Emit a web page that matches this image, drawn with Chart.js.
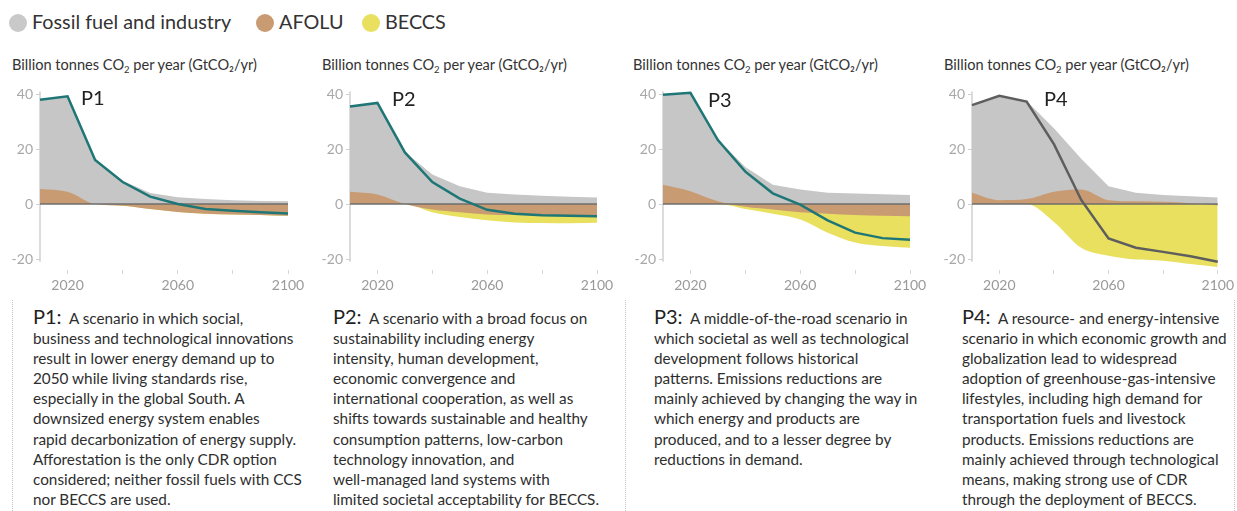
<!DOCTYPE html>
<html>
<head>
<meta charset="utf-8">
<script src="https://cdn.jsdelivr.net/npm/chart.js@4.4.0/dist/chart.umd.min.js"></script>
<style>
  body { margin: 0; width: 1237px; height: 511px; background: #fff; position: relative; overflow: hidden;
         font-family: Lato, "Noto Sans", sans-serif; color: #333; }
  .abs { position: absolute; }
  .legend { top: 10px; height: 22px; font-size: 19.8px; line-height: 22px; color: #333; white-space: nowrap; }
  .dot { display: inline-block; width: 18px; height: 18px; border-radius: 50%; vertical-align: -3px; margin-right: 5px; }
  .ytitle { top: 56px; font-size: 14.6px; white-space: nowrap; color: #333; }
  .ytitle sub { font-size: 9.5px; vertical-align: -3px; }
  .plabel { font-size: 20px; line-height: 20px; color: #222; }
  .txt { top: 306px; font-size: 15.3px; line-height: 20.1px; white-space: nowrap; color: #2e2e2e; }
  .txt .p { font-size: 20px; line-height: 20.1px; color: #222; }
  .vline { top: 300px; height: 211px; border-left: 1px dotted #c4c4c4; }
  canvas { position: absolute; top: 80px; }
</style>
</head>
<body>

<div class="abs legend" style="left:9px"><span class="dot" style="background:#c9c9c9"></span>Fossil fuel and industry</div>
<div class="abs legend" style="left:256px"><span class="dot" style="background:#c99b72"></span>AFOLU</div>
<div class="abs legend" style="left:362px"><span class="dot" style="background:#e8e05e"></span>BECCS</div>

<div class="abs ytitle" style="left:12px">Billion tonnes CO<sub>2</sub> per year (GtCO₂/yr)</div>
<div class="abs ytitle" style="left:322px">Billion tonnes CO<sub>2</sub> per year (GtCO₂/yr)</div>
<div class="abs ytitle" style="left:633px">Billion tonnes CO<sub>2</sub> per year (GtCO₂/yr)</div>
<div class="abs ytitle" style="left:944px">Billion tonnes CO<sub>2</sub> per year (GtCO₂/yr)</div>

<canvas id="c1" width="298" height="215" style="left:10px"></canvas>
<canvas id="c2" width="297" height="215" style="left:320px"></canvas>
<canvas id="c3" width="297" height="215" style="left:633px"></canvas>
<canvas id="c4" width="295" height="215" style="left:942px"></canvas>

<div class="abs plabel" style="left:81px;top:87px">P1</div>
<div class="abs plabel" style="left:392px;top:88px">P2</div>
<div class="abs plabel" style="left:708px;top:89px">P3</div>
<div class="abs plabel" style="left:1044px;top:88px">P4</div>

<div class="abs vline" style="left:12px"></div>
<div class="abs vline" style="left:625px"></div>
<div class="abs vline" style="left:1234px"></div>

<div class="abs txt" style="left:33px"><span class="p">P1:</span>&nbsp; A scenario in which social,<br>business and technological innovations<br>result in lower energy demand up to<br>2050 while living standards rise,<br>especially in the global South. A<br>downsized energy system enables<br>rapid decarbonization of energy supply.<br>Afforestation is the only CDR option<br>considered; neither fossil fuels with CCS<br>nor BECCS are used.</div>
<div class="abs txt" style="left:333px"><span class="p">P2:</span>&nbsp; A scenario with a broad focus on<br>sustainability including energy<br>intensity, human development,<br>economic convergence and<br>international cooperation, as well as<br>shifts towards sustainable and healthy<br>consumption patterns, low-carbon<br>technology innovation, and<br>well-managed land systems with<br>limited societal acceptability for BECCS.</div>
<div class="abs txt" style="left:654px"><span class="p">P3:</span>&nbsp; A middle-of-the-road scenario in<br>which societal as well as technological<br>development follows historical<br>patterns. Emissions reductions are<br>mainly achieved by changing the way in<br>which energy and products are<br>produced, and to a lesser degree by<br>reductions in demand.</div>
<div class="abs txt" style="left:962px"><span class="p">P4:</span>&nbsp; A resource- and energy-intensive<br>scenario in which economic growth and<br>globalization lead to widespread<br>adoption of greenhouse-gas-intensive<br>lifestyles, including high demand for<br>transportation fuels and livestock<br>products. Emissions reductions are<br>mainly achieved through technological<br>means, making strong use of CDR<br>through the deployment of BECCS.</div>

<script>
const years = [2010, 2020, 2030, 2040, 2050, 2060, 2070, 2080, 2090, 2100];
const xTicks = [2020, 2040, 2060, 2080, 2100];
const xLabels = [2020, 2060, 2100];
const yTicks = [-20, 0, 20, 40];

// P1
const fossilP1 = [38, 39.3, 16.3, 8.5, 4, 2.5, 1.8, 1.4, 1.1, 1];
const afoluP1 = [5.5, 4.5, 0, -0.6, -1.8, -2.9, -3.5, -3.8, -4, -4.3];
const beccsP1 = [0, 0, 0, 0, 0, 0, 0, 0, 0, 0];
const netP1 = [38, 39.2, 16, 8, 2.7, 0, -1.8, -2.4, -3, -3.4];
// P2
const fossilP2 = [35.5, 36.8, 19, 10.8, 6.5, 4.1, 3.5, 3, 2.7, 2.4];
const afoluP2 = [4.5, 3.5, 0, -2, -3, -3.8, -4, -4.1, -4.1, -4.1];
const beccsP2 = [0, 0, 0, -1, -1.7, -2.1, -2.7, -2.8, -2.9, -2.7];
const netP2 = [35.5, 36.8, 18.8, 8, 2, -2.1, -3.5, -4.1, -4.3, -4.4];
// P3
const fossilP3 = [39.5, 40.5, 23.5, 13.5, 7, 5.3, 4.1, 3.8, 3.6, 3.3];
const afoluP3 = [7, 4.7, 1, -1, -2, -3, -3.5, -4, -4.3, -4.4];
const beccsP3 = [0, 0, 0, -0.8, -1.5, -2.6, -6.9, -10, -11, -11.5];
const netP3 = [39.8, 40.5, 23.3, 11.8, 3.9, -0.2, -5.9, -10.4, -12.4, -13];
// P4
const fossilP4 = [36, 39.5, 37.5, 27.6, 16.5, 6.5, 4.1, 3.3, 2.8, 2.4];
const afoluP4 = [4.1, 1.4, 1.8, 4.5, 5.3, 1.4, 1, 0.8, 0.3, -0.5];
const beccsP4 = [0, 0, 0, -6.5, -15.9, -18.8, -20.2, -20.6, -21.8, -22.4];
const netP4 = [36, 39.4, 37.3, 21.8, 1.5, -12.5, -15.9, -17.4, -19, -21];

const gray = '#c6c6c6';
const brown = '#c99b72';
const yellow = '#e8e05e';

function pts(arr) {
  return years.map((x, i) => ({ x: x, y: arr[i] }));
}

// y axis line and the zero line, drawn over the filled areas but under the net line
const axisLines = {
  id: 'axisLines',
  beforeDatasetsDraw(chart) {
    const { ctx, chartArea, scales: { y } } = chart;
    ctx.save();
    ctx.strokeStyle = '#d0d0d0';
    ctx.lineWidth = 1.5;
    ctx.beginPath();
    ctx.moveTo(chartArea.left, y.getPixelForValue(41));
    ctx.lineTo(chartArea.left, y.getPixelForValue(-21));
    ctx.stroke();
    ctx.restore();
  },
  afterDatasetDraw(chart, args) {
    if (args.index !== 1) return;
    const { ctx, scales: { x, y } } = chart;
    const y0 = y.getPixelForValue(0);
    ctx.save();
    ctx.strokeStyle = '#6e6e6e';
    ctx.lineWidth = 1.5;
    ctx.beginPath();
    ctx.moveTo(x.getPixelForValue(2010), y0);
    ctx.lineTo(x.getPixelForValue(2100), y0);
    ctx.stroke();
    ctx.restore();
  }
};

function makeChart(id, fossil, afolu, beccs, net, lineColor, padRight) {
  // BECCS is drawn below the negative part of AFOLU
  const beccsEdge = beccs.map((v, i) => Math.min(afolu[i], 0) + v);
  const area = { borderWidth: 0, pointRadius: 0, fill: 'origin', cubicInterpolationMode: 'monotone' };
  new Chart(document.getElementById(id), {
    type: 'line',
    data: {
      datasets: [
        { data: pts(net), borderColor: lineColor, borderWidth: 2.5, pointRadius: 0, fill: false, tension: 0, clip: false },
        Object.assign({ data: pts(afolu), backgroundColor: brown }, area),
        Object.assign({ data: pts(beccsEdge), backgroundColor: yellow }, area),
        { data: pts(fossil), backgroundColor: gray, borderWidth: 0, pointRadius: 0, fill: 'origin', tension: 0 }
      ]
    },
    options: {
      responsive: false,
      animation: false,
      layout: { padding: { top: 8, right: padRight, left: 0, bottom: 0 } },
      plugins: { legend: { display: false }, tooltip: { enabled: false } },
      scales: {
        x: {
          type: 'linear', min: 2010, max: 2100,
          afterBuildTicks: s => { s.ticks = xTicks.map(v => ({ value: v })); },
          afterFit: s => { s.height = 25; },
          border: { display: false },
          grid: { drawOnChartArea: false, tickLength: 4, tickColor: '#d6d6d6' },
          ticks: {
            autoSkip: false, maxRotation: 0, padding: 3, color: '#9a9a9a',
            font: { family: 'Lato', size: 14 },
            callback: v => xLabels.includes(v) ? String(v) : ''
          }
        },
        y: {
          min: -24, max: 41,
          afterBuildTicks: s => { s.ticks = yTicks.map(v => ({ value: v })); },
          afterFit: s => { s.width = 30; },
          border: { display: false },
          grid: { drawOnChartArea: false, tickLength: 4, tickColor: '#d0d0d0' },
          ticks: { padding: 3, color: '#a8a8a8', font: { family: 'Lato', size: 14 } }
        }
      }
    },
    plugins: [axisLines]
  });
}

makeChart('c1', fossilP1, afoluP1, beccsP1, netP1, '#1f7676', 20);
makeChart('c2', fossilP2, afoluP2, beccsP2, netP2, '#1f7676', 20);
makeChart('c3', fossilP3, afoluP3, beccsP3, netP3, '#1f7676', 20);
makeChart('c4', fossilP4, afoluP4, beccsP4, netP4, '#5e5e5e', 18);
</script>
</body>
</html>
